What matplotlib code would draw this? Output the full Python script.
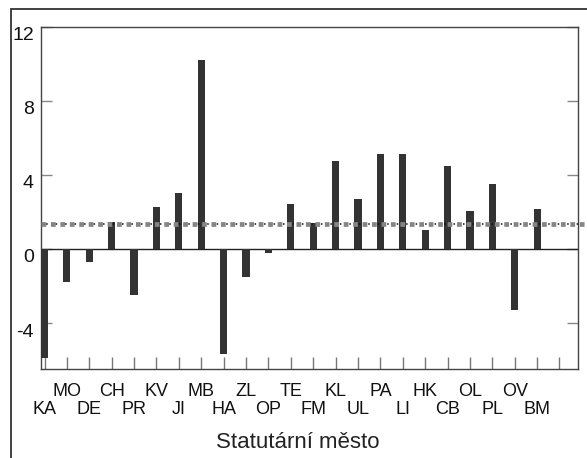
import matplotlib
matplotlib.use("Agg")
import matplotlib.pyplot as plt
import matplotlib.patches as mpatches
import matplotlib.transforms as mtransforms
import numpy as np

plt.rcParams['font.family'] = ['Liberation Sans', 'DejaVu Sans']

# Statutární města (zkratky) a hodnoty
cities = ["KA", "MO", "DE", "CH", "PR", "KV", "JI", "MB", "HA", "ZL", "OP", "TE",
          "FM", "KL", "UL", "PA", "LI", "HK", "CB", "OL", "PL", "OV", "BM"]
values = [-5.9, -1.8, -0.7, 1.45, -2.5, 2.25, 3.0, 10.2, -5.7, -1.5, -0.2, 2.4,
          1.4, 4.75, 2.7, 5.1, 5.1, 1.0, 4.5, 2.05, 3.5, -3.3, 2.15]
mean_value = 1.34
y_ticks = [-4, 0, 4, 8, 12]

W, H = 587, 458
fig = plt.figure(figsize=(W / 100, H / 100), dpi=100)
ax = fig.add_axes([40.7 / W, 1 - 369.3 / H, 537.6 / W, 342.6 / H])

x = np.arange(len(cities))
ax.bar(x, values, width=0.32, color='#333333', zorder=3)
ax.axhline(0, color='#222222', lw=1.0, zorder=2)

# mean line: grey squares + small black dots
ax.axhline(mean_value, xmin=0, xmax=1.03, color='#858585', lw=3.4,
           linestyle=(0, (1, 1)), dash_capstyle='butt', clip_on=False, zorder=4)
ax.axhline(mean_value, color='#111111', lw=1.1,
           linestyle=(-3.4, (1, 5.2)), dash_capstyle='butt', zorder=5)

ax.set_xlim(-0.17, len(cities) + 0.84)
ax.set_ylim(-6.5, 12)

ax.set_yticks(y_ticks)
ax.set_yticklabels([str(v) for v in y_ticks])
ax.tick_params(axis='y', direction='in', length=8, width=1, color='#888888',
               left=True, right=True, labelsize=14, pad=5, labelcolor='#111111')
offset = mtransforms.ScaledTranslation(0, -7 / 100, fig.dpi_scale_trans)
for lbl in ax.get_yticklabels():
    lbl.set_transform(lbl.get_transform() + offset)

# two rows of category labels
ax.set_xticks(x[::2])
ax.set_xticklabels(cities[::2])
ax.set_xticks(list(x[1::2]) + [len(cities)], minor=True)
ax.set_xticklabels(cities[1::2] + [""], minor=True)
ax.tick_params(axis='x', which='both', direction='in', length=9, width=1,
               color='#777777', labelsize=13, labelcolor='#111111')
ax.tick_params(axis='x', which='major', pad=23)
ax.tick_params(axis='x', which='minor', pad=10)

for side in ['left', 'right', 'top', 'bottom']:
    ax.spines[side].set_color('#444444')
    ax.spines[side].set_linewidth(1.0)

ax.set_xlabel("Statutární město", fontsize=16, color='#222222')
ax.xaxis.set_label_coords((297.5 - 40.7) / 537.6, -(443 - 369.3) / 342.6)
ax.xaxis.label.set_va('center')

# outer frame (clipped by the figure edge on the right and bottom)
frame = mpatches.Rectangle((11 / W, -0.1), 1.2, 1 - 9 / H + 0.1,
                           transform=fig.transFigure, fill=False,
                           edgecolor='#333333', lw=1.3, clip_on=False)
fig.patches.append(frame)

fig.savefig("out.png", dpi=100)
